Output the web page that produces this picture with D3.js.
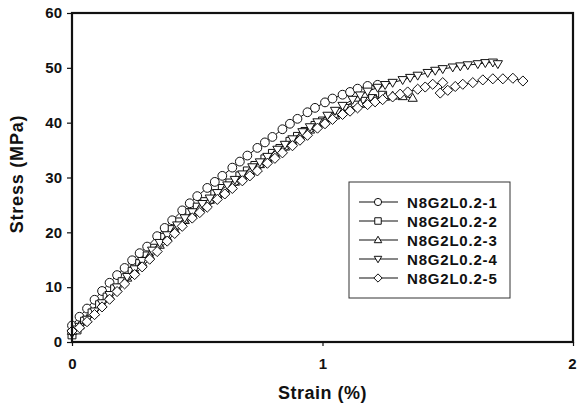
<!DOCTYPE html>
<html>
<head>
<meta charset="utf-8">
<script src="https://cdn.jsdelivr.net/npm/d3@7"></script>
<style>
  body { margin: 0; background: #fff; }
  text { font-family: "Liberation Sans", Arial, sans-serif; font-weight: bold; fill: #111; }
</style>
</head>
<body>
<script>
const width = 578, height = 409;

// [strain %, stress MPa]
const s1 = [[0,3.0],[0.03,4.6],[0.06,6.1],[0.09,7.7],[0.12,9.3],[0.15,10.8],[0.18,12.2],[0.21,13.5],[0.24,14.9],[0.27,16.2],[0.30,17.4],[0.34,19.3],[0.37,20.8],[0.40,22.2],[0.44,24.0],[0.47,25.3],[0.50,26.6],[0.54,28.1],[0.57,29.2],[0.60,30.3],[0.64,31.8],[0.67,32.9],[0.70,34.0],[0.74,35.4],[0.77,36.4],[0.80,37.4],[0.84,38.8],[0.87,39.8],[0.90,40.7],[0.94,41.9],[0.97,42.7],[1.01,43.7],[1.04,44.4],[1.08,45.1],[1.11,45.6],[1.14,46.2],[1.18,46.7],[1.22,46.9]];
const s2 = [[0,1.3],[0.02,2.2],[0.05,3.8],[0.08,5.3],[0.11,6.8],[0.14,8.2],[0.17,9.7],[0.20,11.0],[0.24,12.9],[0.27,14.3],[0.30,15.7],[0.33,17.1],[0.37,19.1],[0.40,20.5],[0.43,21.9],[0.47,23.6],[0.50,24.6],[0.53,25.6],[0.57,27.0],[0.60,28.0],[0.63,29.0],[0.67,30.3],[0.70,31.2],[0.73,32.2],[0.77,33.4],[0.80,34.4],[0.83,35.3],[0.87,36.6],[0.90,37.5],[0.93,38.4],[0.97,39.5],[1.00,40.3],[1.03,41.0],[1.07,41.9],[1.10,42.6],[1.13,43.2],[1.17,43.9],[1.20,44.4],[1.24,45.0]];
const s3 = [[0,2.0],[0.03,3.0],[0.06,4.2],[0.09,5.5],[0.12,6.9],[0.15,8.4],[0.18,9.8],[0.22,11.7],[0.25,13.0],[0.28,14.5],[0.31,15.8],[0.35,17.7],[0.38,19.1],[0.41,20.5],[0.45,22.2],[0.48,23.3],[0.51,24.4],[0.55,25.9],[0.58,26.9],[0.61,27.9],[0.65,29.2],[0.68,30.1],[0.71,31.1],[0.75,32.4],[0.78,33.3],[0.81,34.3],[0.85,35.6],[0.88,36.5],[0.91,37.5],[0.95,38.7],[0.98,39.6],[1.01,40.3],[1.05,41.3],[1.08,42.0],[1.11,42.7],[1.15,43.4],[1.18,43.9],[1.21,44.3],[1.25,44.7],[1.28,44.9],[1.32,44.8],[1.36,44.5]];
const s4 = [[0,1.6],[0.03,2.8],[0.06,4.1],[0.09,5.6],[0.12,7.1],[0.15,8.6],[0.18,10.0],[0.22,11.9],[0.25,13.3],[0.28,14.8],[0.32,16.7],[0.35,18.1],[0.38,19.5],[0.42,21.3],[0.45,22.6],[0.48,23.7],[0.52,25.2],[0.55,26.2],[0.58,27.2],[0.62,28.6],[0.65,29.6],[0.68,30.6],[0.72,31.9],[0.75,32.8],[0.78,33.8],[0.82,35.1],[0.85,36.0],[0.88,37.0],[0.92,38.3],[0.95,39.2],[0.98,40.1],[1.02,41.3],[1.05,42.2],[1.08,43.1],[1.12,44.2],[1.15,45.0],[1.18,45.7],[1.22,46.4],[1.25,46.9],[1.28,47.3],[1.32,47.8],[1.35,48.2],[1.38,48.6],[1.42,49.1],[1.45,49.5],[1.48,49.8],[1.52,50.1],[1.55,50.3],[1.58,50.5],[1.62,50.7],[1.65,50.9],[1.68,51.0],[1.70,50.7]];
const s5 = [[0,2.0],[0.03,2.6],[0.06,3.7],[0.09,5.0],[0.12,6.4],[0.15,7.8],[0.18,9.2],[0.21,10.6],[0.25,12.3],[0.28,13.7],[0.31,15.1],[0.34,16.5],[0.38,18.4],[0.41,19.8],[0.44,21.1],[0.48,22.6],[0.51,23.6],[0.54,24.6],[0.58,26.0],[0.61,27.0],[0.64,28.0],[0.68,29.4],[0.71,30.3],[0.74,31.2],[0.78,32.6],[0.81,33.5],[0.84,34.5],[0.88,35.8],[0.91,36.8],[0.94,37.7],[0.98,39.0],[1.01,39.8],[1.04,40.6],[1.08,41.5],[1.11,42.1],[1.14,42.7],[1.18,43.3],[1.21,43.8],[1.24,44.2],[1.28,44.7],[1.31,45.2],[1.34,45.6],[1.38,46.1],[1.41,46.5],[1.44,47.0],[1.48,47.3],[1.47,45.4],[1.50,45.9],[1.53,46.6],[1.56,47.0],[1.60,47.3],[1.64,47.8],[1.68,48.0],[1.72,48.0],[1.76,48.1],[1.80,47.6]];

const names = ["N8G2L0.2-1", "N8G2L0.2-2", "N8G2L0.2-3", "N8G2L0.2-4", "N8G2L0.2-5"];
const shapes = ["circle", "square", "up", "down", "diamond"];
const xTicks = [0, 1, 2];
const yTicks = [0, 10, 20, 30, 40, 50, 60];
const series = [s1, s2, s3, s4, s5];

const x = d3.scaleLinear().domain([0, 2]).range([72, 573]);
const y = d3.scaleLinear().domain([0, 60]).range([342, 13]);

const svg = d3.select("body").append("svg")
  .attr("width", width).attr("height", height);

// marker path, centred on 0,0
function marker(shape, s) {
  const p = d3.path();
  if (shape === "circle") {
    p.arc(0, 0, s, 0, 2 * Math.PI);
  } else if (shape === "square") {
    p.rect(-s * 0.9, -s * 0.9, s * 1.8, s * 1.8);
  } else if (shape === "up") {
    p.moveTo(0, -s * 1.05); p.lineTo(s * 1.05, s * 0.75); p.lineTo(-s * 1.05, s * 0.75); p.closePath();
  } else if (shape === "down") {
    p.moveTo(0, s * 1.05); p.lineTo(s * 1.05, -s * 0.75); p.lineTo(-s * 1.05, -s * 0.75); p.closePath();
  } else {
    p.moveTo(0, -s * 1.15); p.lineTo(s * 1.15, 0); p.lineTo(0, s * 1.15); p.lineTo(-s * 1.15, 0); p.closePath();
  }
  return p.toString();
}

const line = d3.line().x(d => x(d[0])).y(d => y(d[1]));

series.forEach((data, i) => {
  const g = svg.append("g");
  g.append("path").attr("d", line(data))
    .attr("fill", "none").attr("stroke", "#111").attr("stroke-width", 1);
  g.selectAll("path.m").data(data).enter().append("path")
    .attr("class", "m")
    .attr("transform", d => `translate(${x(d[0])},${y(d[1])})`)
    .attr("d", marker(shapes[i], 4.4))
    .attr("fill", "#fff").attr("stroke", "#111").attr("stroke-width", 1);
});

// axes
const gy = svg.append("g").attr("transform", `translate(${x(0)},0)`)
  .call(d3.axisLeft(y).tickValues(yTicks).tickFormat(d3.format("d")).tickSize(5).tickPadding(5));
const gx = svg.append("g").attr("transform", `translate(0,${y(0)})`)
  .call(d3.axisBottom(x).tickValues(xTicks).tickFormat(d3.format("d")).tickSize(4).tickPadding(12));
[gx, gy].forEach(g => {
  g.select(".domain").remove();
  g.selectAll(".tick line").attr("stroke", "#111").attr("stroke-width", 1.2);
  g.selectAll(".tick text").style("font-size", "15px").style("font-weight", "bold")
    .style("font-family", "'Liberation Sans', Arial, sans-serif").attr("fill", "#111");
});
gx.selectAll(".tick text").filter(d => d === 2).attr("dx", -1);

svg.append("rect")
  .attr("x", x(0)).attr("y", y(60))
  .attr("width", x(2) - x(0)).attr("height", y(0) - y(60))
  .attr("fill", "none").attr("stroke", "#111").attr("stroke-width", 2.2);

// axis titles
svg.append("text")
  .attr("x", (x(0) + x(2)) / 2).attr("y", 399)
  .attr("text-anchor", "middle")
  .style("font-size", "18px").style("letter-spacing", "0.5px")
  .text("Strain (%)");
svg.append("text")
  .attr("transform", `translate(23,174) rotate(-90)`)
  .attr("text-anchor", "middle")
  .style("font-size", "18px").style("letter-spacing", "0.8px")
  .text("Stress (MPa)");

// legend
const lg = svg.append("g");
lg.append("rect").attr("x", 349).attr("y", 182).attr("width", 161).attr("height", 116)
  .attr("fill", "#fff").attr("stroke", "#333").attr("stroke-width", 1);
names.forEach((n, i) => {
  const ly = 202 + i * 19;
  lg.append("line").attr("x1", 359).attr("x2", 398).attr("y1", ly).attr("y2", ly)
    .attr("stroke", "#111").attr("stroke-width", 1.2);
  lg.append("path").attr("transform", `translate(378,${ly})`)
    .attr("d", marker(shapes[i], 3.6))
    .attr("fill", "#fff").attr("stroke", "#111").attr("stroke-width", 1);
  lg.append("text").attr("x", 407).attr("y", ly + 5.5)
    .style("font-size", "15px").style("letter-spacing", "0.8px")
    .text(n);
});
</script>
</body>
</html>
